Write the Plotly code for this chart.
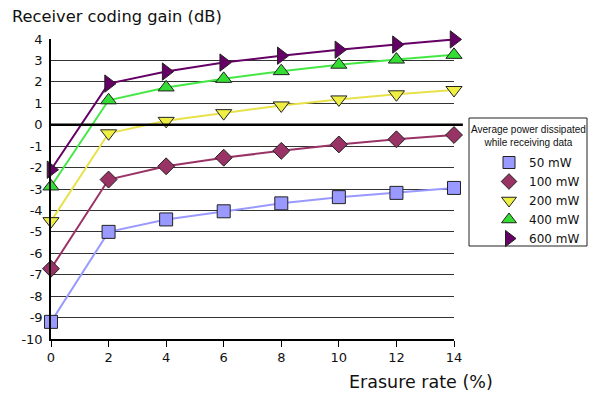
import plotly.graph_objects as go

erasure = [0, 2, 4, 6, 8, 10, 12, 14]
gain_50 = [-9.2, -5.0, -4.42, -4.04, -3.67, -3.38, -3.18, -2.95]
gain_100 = [-6.72, -2.56, -1.94, -1.54, -1.22, -0.92, -0.68, -0.48]
gain_200 = [-4.5, -0.4, 0.18, 0.54, 0.9, 1.18, 1.42, 1.62]
gain_400 = [-2.88, 1.14, 1.74, 2.14, 2.5, 2.8, 3.04, 3.26]
gain_600 = [-2.1, 1.92, 2.48, 2.9, 3.22, 3.5, 3.74, 3.98]
labels = ["50 mW", "100 mW", "200 mW", "400 mW", "600 mW"]
y_ticks = list(range(-10, 5))
y_ticktext = [str(v) for v in y_ticks]
x_ticks = list(range(0, 16, 2))

series = [
    (gain_50, labels[0], "#9999ff", "#9999ff", "square", 13),
    (gain_100, labels[1], "#993366", "#993366", "diamond", 13),
    (gain_200, labels[2], "#e8e24a", "#eeee44", "triangle-down", 14),
    (gain_400, labels[3], "#44e844", "#33dd33", "triangle-up", 14),
    (gain_600, labels[4], "#660066", "#660066", "triangle-right", 15),
]

fig = go.Figure()
for vals, name, lc, mc, sym, sz in series:
    fig.add_trace(go.Scatter(
        x=erasure, y=vals, mode="lines+markers", name=name, showlegend=False,
        line=dict(color=lc, width=2),
        marker=dict(symbol=sym, size=sz, color=mc, line=dict(color="#222222", width=1)),
        cliponaxis=False,
    ))
for vals, name, lc, mc, sym, sz in series:
    fig.add_trace(go.Scatter(
        x=[None], y=[None], mode="markers", name=name,
        marker=dict(symbol=sym, size=sz - 1, color=mc, line=dict(color="#222222", width=1)),
    ))

# zero line (extends slightly past plot area)
fig.add_shape(type="line", xref="paper", yref="paper", x0=0, x1=1.022,
              y0=10 / 14, y1=10 / 14, line=dict(color="black", width=2.5), layer="above")
# legend box
fig.add_shape(type="rect", xref="paper", yref="paper",
              x0=(469 - 51) / 403, x1=(587 - 51) / 403,
              y0=(339 - 246) / 300, y1=(339 - 118) / 300,
              line=dict(color="#222222", width=1), fillcolor="white", layer="below")

fig.update_layout(
    width=589, height=394,
    margin=dict(l=51, r=135, t=39, b=55),
    paper_bgcolor="white", plot_bgcolor="white",
    font=dict(family="DejaVu Sans", size=13, color="#111111"),
    xaxis=dict(range=[0, 14], tickvals=x_ticks, showgrid=False, zeroline=False,
               showline=True, linecolor="black", linewidth=1.5,
               ticks="outside", ticklen=6, tickcolor="black"),
    yaxis=dict(range=[-10, 4], tickvals=y_ticks, ticktext=y_ticktext,
               showgrid=True, gridcolor="#333333",
               gridwidth=1, zeroline=False, showline=True, linecolor="black",
               linewidth=1.5, ticks="", ticklabelstandoff=4),
    legend=dict(
        xref="container", yref="container",
        x=489 / 589, y=1 - 148 / 394, xanchor="left", yanchor="top",
        borderwidth=0, bgcolor="rgba(0,0,0,0)",
        font=dict(family="DejaVu Sans", size=12),
        tracegroupgap=0, itemwidth=30,
    ),
    annotations=[
        dict(text="Receiver coding gain (dB)", xref="paper", yref="paper",
             x=-41 / 403, y=1 + 23 / 300, xanchor="left", yanchor="middle",
             showarrow=False, font=dict(size=16.3, family="DejaVu Sans")),
        dict(text="Erasure rate (%)", xref="paper", yref="paper",
             x=(421 - 51) / 403, y=-(382 - 339) / 300, xanchor="center", yanchor="middle",
             showarrow=False, font=dict(size=17.5, family="DejaVu Sans")),
        dict(text="Average power dissipated<br>while receiving data", xref="paper", yref="paper",
             x=(528 - 51) / 403, y=(339 - 136) / 300, xanchor="center", yanchor="middle",
             align="center", showarrow=False,
             font=dict(size=10, family="Liberation Sans")),
    ],
)

fig.write_html("out.html")
